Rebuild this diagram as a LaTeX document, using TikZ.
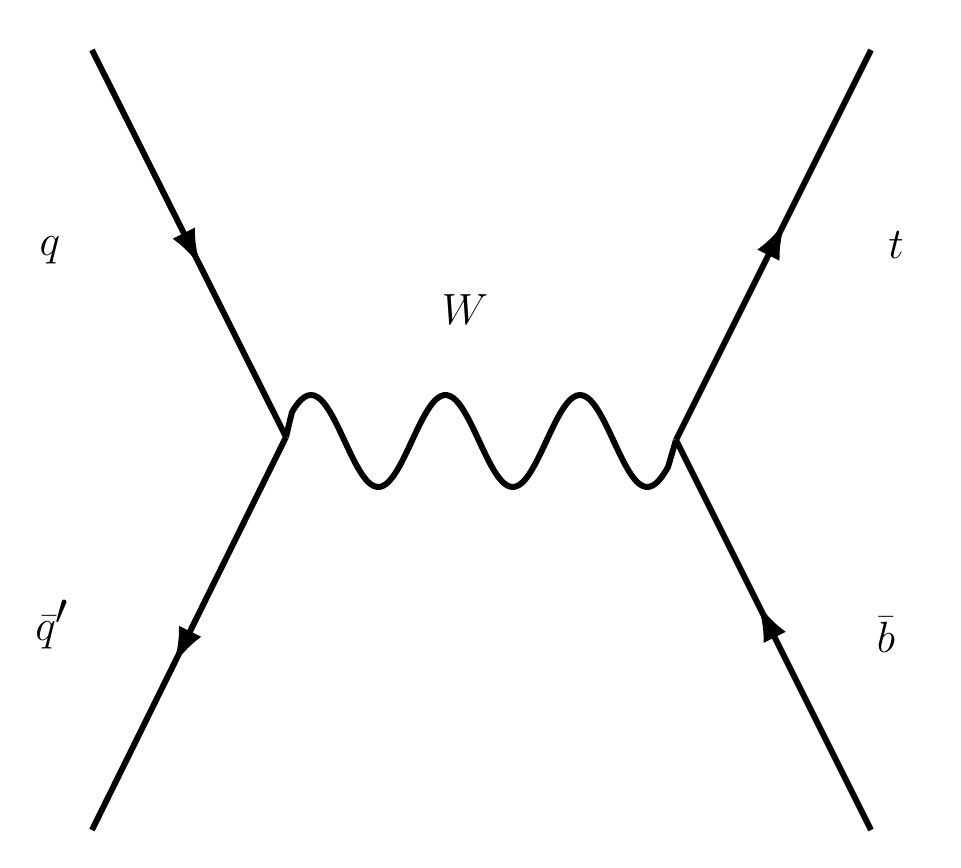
\documentclass[tikz,border=0pt]{standalone}
\usetikzlibrary{decorations.markings,arrows.meta}
\begin{document}
\begin{tikzpicture}[x=0.02cm,y=-0.02cm,line width=3.4pt,
  fermion/.style={postaction={decorate},decoration={markings,mark=at position #1 with {\arrow{Latex[length=0.75cm,width=0.5cm]}}}},
  lbl/.style={font=\fontsize{44}{52}\selectfont}]
\useasboundingbox (0,0) rectangle (961,868);
\coordinate (tl) at (92,50);
\coordinate (bl) at (92,830);
\coordinate (tr) at (871,50);
\coordinate (br) at (871,830);
\coordinate (v1) at (286,437);
\coordinate (v2) at (676,440);
\draw[fermion=0.56] (tl) -- (v1);
\draw[fermion=0.58] (v1) -- (bl);
\draw[fermion=0.56] (v2) -- (tr);
\draw[fermion=0.58] (br) -- (v2);
\draw[line join=round] (v1) -- plot[smooth,domain=292:668,samples=120] (\x,{441-46*cos((\x-311)*2.6766)}) -- (v2);
\node[lbl] (q) at (50,250) {$q$};
\node[lbl] (w) at (465,310) {$W$};
\node[lbl] (t) at (896,245) {$t$};
\node[lbl] (qb) at (52,625) {$\bar q'$};
\node[lbl] (b) at (886,635) {$\bar b$};
\end{tikzpicture}
\end{document}
